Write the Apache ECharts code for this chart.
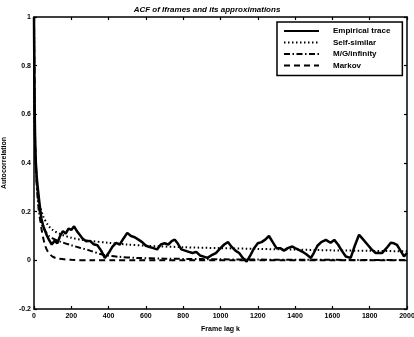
<!DOCTYPE html>
<html><head><meta charset="utf-8">
<script src="https://cdn.jsdelivr.net/npm/echarts@6/dist/echarts.min.js"></script>
<style>html,body{margin:0;padding:0;background:#fff}#c{width:414px;height:337px}</style>
</head><body><div id="c"></div>
<script>
var xTicks = [0,200,400,600,800,1000,1200,1400,1600,1800,2000];
var yTicks = [-0.2,0,0.2,0.4,0.6,0.8,1];

var empLag = [0,2,4,6,8,10,15,20,30,40,50,60,70,80,95,110,125,140,155,170,185,200,215,230,245,260,280,300,320,340,360,380,400,420,440,460,480,500,520,540,560,580,600,620,640,660,680,700,720,740,755,770,790,810,830,850,870,890,910,930,950,975,1000,1020,1040,1060,1080,1100,1120,1140,1160,1180,1200,1220,1240,1260,1280,1300,1320,1340,1360,1385,1400,1420,1440,1460,1485,1500,1520,1540,1565,1590,1610,1630,1650,1672,1698,1720,1743,1760,1789,1810,1832,1866,1890,1913,1930,1946,1965,1984,2000];
var empVal = [1.0,0.75,0.6,0.5,0.44,0.4,0.34,0.3,0.23,0.17,0.14,0.12,0.10,0.085,0.065,0.08,0.07,0.10,0.12,0.11,0.13,0.125,0.14,0.12,0.105,0.09,0.078,0.08,0.066,0.062,0.04,0.01,0.03,0.055,0.072,0.065,0.09,0.113,0.10,0.095,0.085,0.075,0.06,0.055,0.05,0.045,0.065,0.07,0.065,0.08,0.085,0.07,0.045,0.04,0.035,0.03,0.035,0.02,0.015,0.01,0.02,0.03,0.05,0.065,0.075,0.055,0.04,0.03,0.01,-0.005,0.02,0.05,0.07,0.075,0.085,0.1,0.075,0.05,0.05,0.04,0.05,0.057,0.05,0.043,0.035,0.025,0.01,0.03,0.06,0.075,0.084,0.072,0.084,0.065,0.04,0.016,0.01,0.06,0.105,0.09,0.064,0.045,0.03,0.03,0.05,0.072,0.07,0.064,0.04,0.016,0.03];

var ssLag = [0,2,5,10,20,30,50,75,100,150,200,250,300,400,500,600,800,1000,1200,1400,1600,1800,2000];
var ssVal = [1,0.7,0.5,0.38,0.28,0.23,0.18,0.145,0.125,0.105,0.093,0.085,0.08,0.072,0.065,0.06,0.054,0.05,0.047,0.044,0.041,0.039,0.037];

var mgLag = [0,2,5,10,20,30,40,60,80,100,140,200,250,300,370,450,550,700,900,1200,1600,2000];
var mgVal = [1,0.7,0.5,0.37,0.25,0.18,0.15,0.12,0.1,0.09,0.077,0.062,0.051,0.04,0.023,0.015,0.01,0.007,0.005,0.003,0.002,0.001];

var mkLag = [0,3,6,10,15,20,30,40,50,60,75,100,130,200,300,2000];
var mkVal = [1,0.7,0.5,0.4,0.33,0.28,0.2,0.13,0.09,0.06,0.035,0.015,0.007,0.002,0,0];

var names = ['Empirical trace','Self-similar','M/G/infinity','Markov'];

function pairs(a,b){return a.map(function(x,i){return [x,b[i]];});}

var font = 'Liberation Sans';
var axisCommon = {
  min:0, max:2000, interval:200, type:'value',
  axisLine:{show:true,onZero:false,lineStyle:{color:'#000',width:1.5}},
  axisTick:{show:true,inside:true,length:3,lineStyle:{color:'#000',width:1.2}},
  splitLine:{show:false}
};
var chart = echarts.init(document.getElementById('c'));
chart.setOption({
  animation:false,
  backgroundColor:'#fff',
  color:['#000','#000','#000','#000'],
  title:{text:'ACF of Iframes and its approximations',left:'center',top:1,
    textStyle:{fontFamily:font,fontSize:8,fontWeight:'bold',fontStyle:'italic',color:'#000'}},
  grid:{left:34,right:7,top:17,bottom:28,containLabel:false,outerBoundsMode:'none'},
  legend:{
    orient:'vertical', left:277, top:22,
    data:names,
    backgroundColor:'#fff', borderColor:'#000', borderWidth:1.5,
    padding:[5,12,6,6], itemWidth:35, itemHeight:8, itemGap:3.5,
    itemStyle:{opacity:0},
    textStyle:{fontFamily:font,fontSize:8,fontWeight:'bold',color:'#000',padding:[0,0,0,9]}
  },
  xAxis:[
    Object.assign({}, axisCommon, {position:'bottom',
      name:'Frame lag k', nameLocation:'middle', nameGap:17,
      nameTextStyle:{fontFamily:font,fontSize:7,fontWeight:'bold',color:'#000'},
      axisLabel:{fontFamily:font,fontSize:7,fontWeight:'bold',color:'#000',margin:4,
        formatter:function(v){return String(v);}}}),
    Object.assign({}, axisCommon, {position:'top',axisLabel:{show:false}})
  ],
  yAxis:[
    {type:'value',min:-0.2,max:1,interval:0.2,position:'left',
     name:'Autocorrelation', nameLocation:'middle', nameGap:14,
     nameTextStyle:{fontFamily:font,fontSize:7,fontWeight:'bold',color:'#000'},
     axisLine:{show:true,onZero:false,lineStyle:{color:'#000',width:1.5}},
     axisTick:{show:true,inside:true,length:3,lineStyle:{color:'#000',width:1.2}},
     axisLabel:{fontFamily:font,fontSize:7,fontWeight:'bold',color:'#000',margin:3,
       formatter:function(v){return String(Math.round(v*10)/10);}},
     splitLine:{show:false}},
    {type:'value',min:-0.2,max:1,interval:0.2,position:'right',
     axisLine:{show:true,onZero:false,lineStyle:{color:'#000',width:1.5}},
     axisTick:{show:true,inside:true,length:3,lineStyle:{color:'#000',width:1.2}},
     axisLabel:{show:false},splitLine:{show:false}}
  ],
  series:[
    {name:names[0],type:'line',data:pairs(empLag,empVal),symbol:'none',
     itemStyle:{color:'#000'},lineStyle:{color:'#000',width:2.5,type:'solid'},z:5},
    {name:names[1],type:'line',data:pairs(ssLag,ssVal),symbol:'none',smooth:0.3,
     itemStyle:{color:'#000'},lineStyle:{color:'#000',width:2,type:[1.5,2.5]},z:4},
    {name:names[2],type:'line',data:pairs(mgLag,mgVal),symbol:'none',smooth:0.3,
     itemStyle:{color:'#000'},lineStyle:{color:'#000',width:2,type:[6,2.5,1.5,2.5]},z:3},
    {name:names[3],type:'line',data:pairs(mkLag,mkVal),symbol:'none',smooth:0.3,
     itemStyle:{color:'#000'},lineStyle:{color:'#000',width:2,type:[6,4]},z:2}
  ]
});
</script></body></html>
